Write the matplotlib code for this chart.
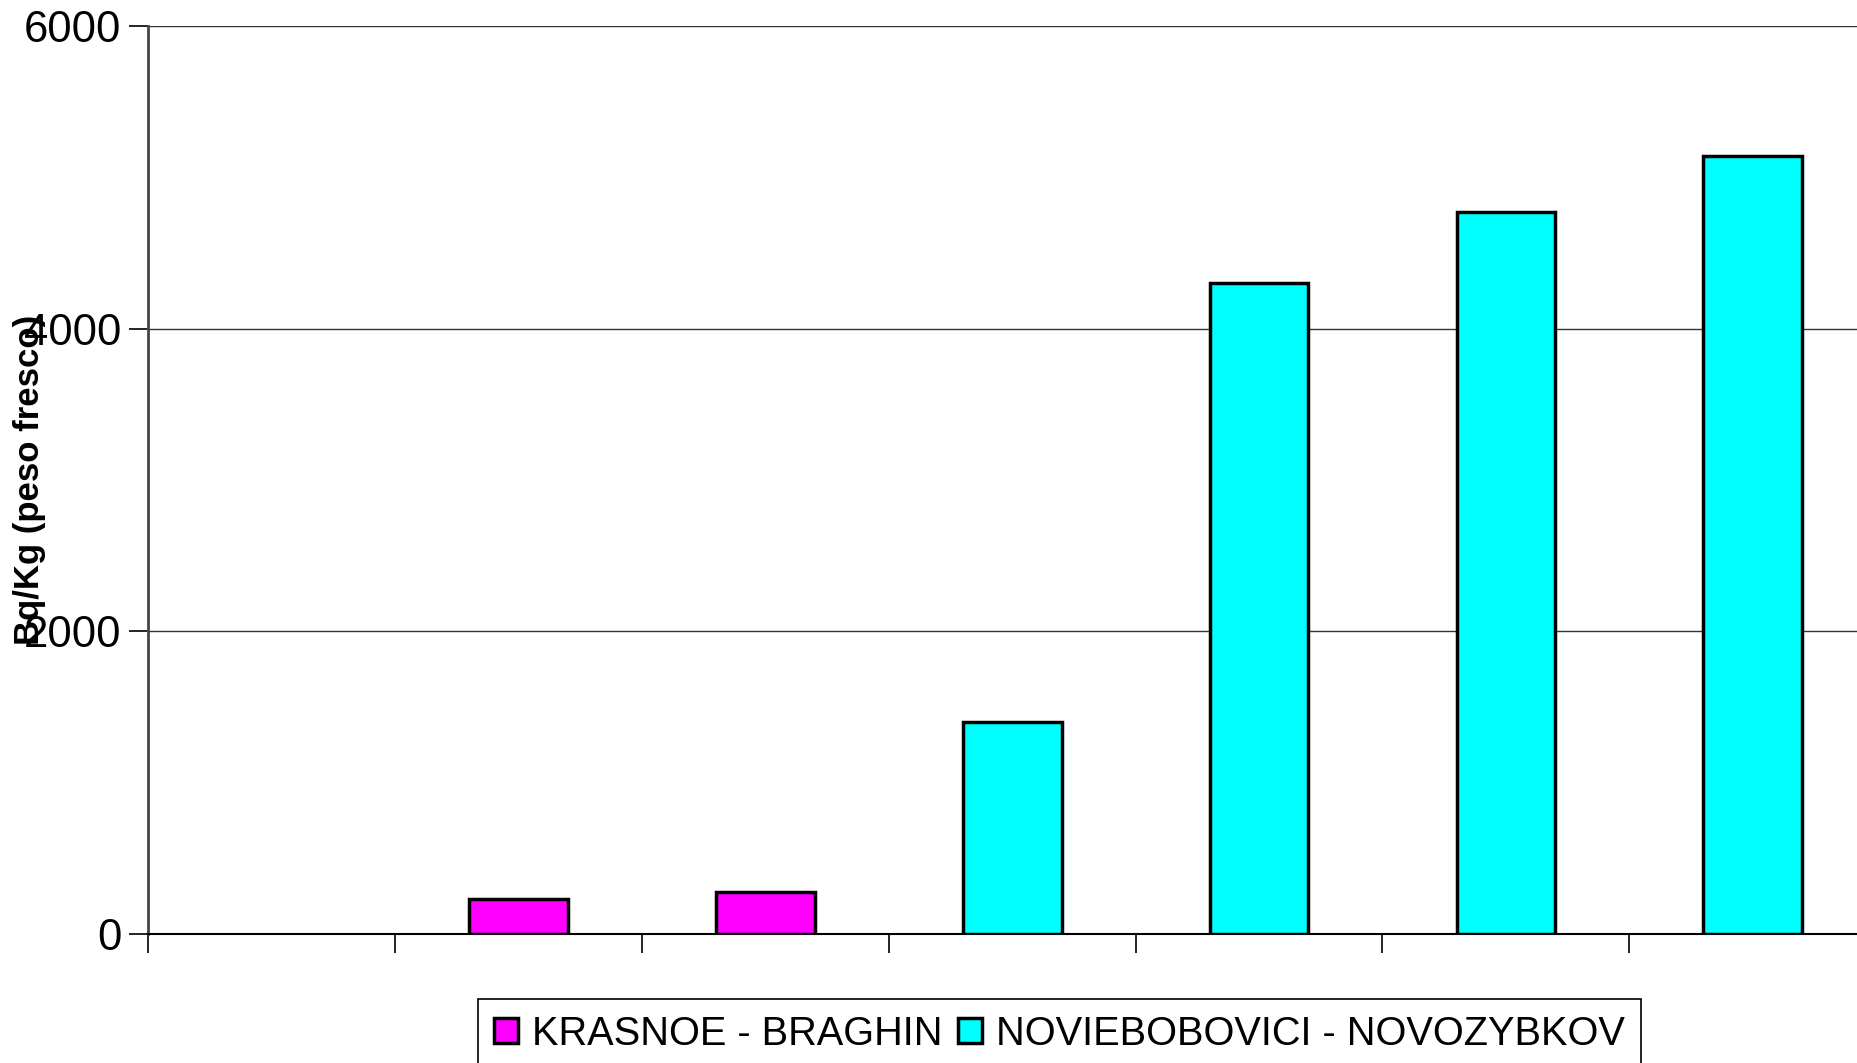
"""
Cs-137 activity bar chart (Bq/Kg peso fresco) for two village pairs.
Saves out.png
"""

import matplotlib
matplotlib.use("Agg")
import matplotlib.pyplot as plt
import numpy as np

plt.rcParams["font.family"] = ["Liberation Sans", "DejaVu Sans"]

# categories have no visible labels in the original
categories = ["", "", "", "", "", "", ""]
krasnoe = [np.nan, 230, 280, np.nan, np.nan, np.nan, np.nan]
novie = [np.nan, np.nan, np.nan, 1400, 4300, 4770, 5140]
series_names = ["KRASNOE - BRAGHIN", "NOVIEBOBOVICI - NOVOZYBKOV"]
y_ticks = [0, 2000, 4000, 6000]

W, H = 1858, 1063
fig = plt.figure(figsize=(W / 100, H / 100), dpi=100)
left, bottom, top = 148 / W, 1 - 934 / H, 1 - 26 / H
width = 7 * 246.9 / W
ax = fig.add_axes([left, bottom, width, top - bottom])

x = np.arange(len(categories))
ax.bar(x, krasnoe, width=0.4, color="#ff00ff", edgecolor="black", linewidth=2.5,
       label=series_names[0], zorder=3)
ax.bar(x, novie, width=0.4, color="#00ffff", edgecolor="black", linewidth=2.5,
       label=series_names[1], zorder=3)

ax.set_xlim(-0.5, len(categories) - 0.5)
ax.set_ylim(0, 6000)
ax.set_yticks(y_ticks)
ax.set_yticklabels([str(v) for v in y_ticks], fontsize=31.5)
ax.set_xticks(np.arange(len(categories) + 1) - 0.5)
ax.set_xticklabels([""] * (len(categories) + 1))
ax.tick_params(axis="y", direction="out", length=14, width=1.2, pad=5)
ax.tick_params(axis="x", direction="out", length=14, width=1.2)

ax.yaxis.grid(True, color="#333333", linewidth=1.0, zorder=0)
ax.set_axisbelow(True)
for s in ["top", "right"]:
    ax.spines[s].set_visible(False)
ax.spines["left"].set_color("#444444")
ax.spines["left"].set_linewidth(2.0)
ax.spines["bottom"].set_linewidth(1.5)

fig.text(30 / W, 1 - 480 / H, "Bq/Kg (peso fresco)", rotation=90, fontsize=25,
         fontweight="bold", ha="center", va="center")

leg = fig.legend(loc="upper left", bbox_to_anchor=(478 / W, 1 - 999 / H), ncol=2,
                 fontsize=28.6, frameon=True, fancybox=False, edgecolor="black",
                 framealpha=1, borderaxespad=0, handlelength=0.6, handleheight=0.6,
                 handletextpad=0.35, columnspacing=0.4, borderpad=0.4)
leg.get_frame().set_linewidth(1.2)

fig.savefig("out.png", dpi=100)
